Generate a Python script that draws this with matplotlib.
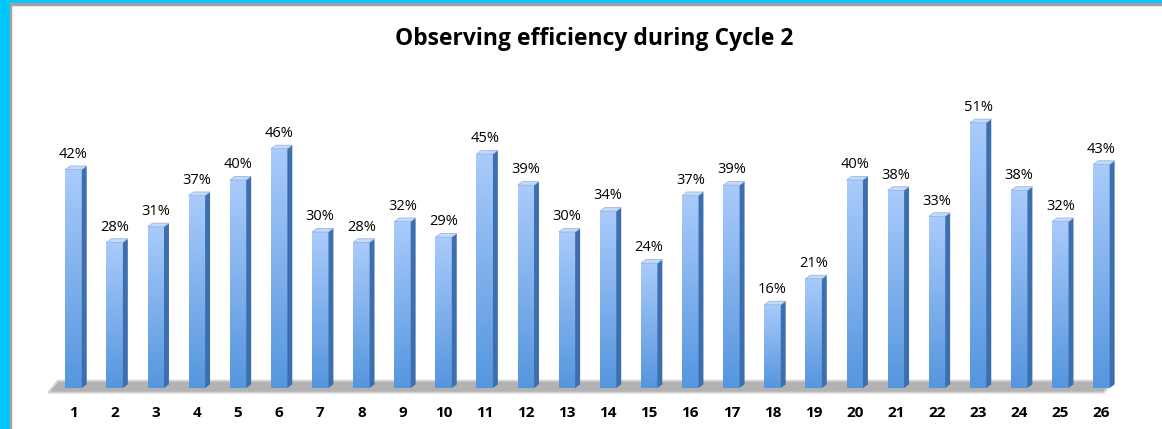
import matplotlib.pyplot as plt
import numpy as np
from matplotlib.colors import LinearSegmentedColormap
from matplotlib.patches import Polygon, Rectangle

# Data
cycles = [str(i) for i in range(1, 27)]
efficiency = [42, 28, 31, 37, 40, 46, 30, 28, 32, 29, 45, 39, 30, 34, 24,
              37, 39, 16, 21, 40, 38, 33, 51, 38, 32, 43]

plt.rcParams["font.family"] = ["Open Sans", "DejaVu Sans"]

fig = plt.figure(figsize=(11.62, 4.29), dpi=100)
fig.patch.set_facecolor("white")

# cyan frame on top and left
fig.patches.append(Rectangle((0, 1 - 4 / 429), 1, 4 / 429, transform=fig.transFigure,
                             color="#00c8ff", zorder=0))
fig.patches.append(Rectangle((0, 0), 10 / 1162, 1, transform=fig.transFigure,
                             color="#00c8ff", zorder=0))
fig.patches.append(Rectangle((10 / 1162, 1 - 5 / 429), 1, 1.5 / 429, transform=fig.transFigure,
                             color="#a0a0a0", zorder=0))
fig.patches.append(Rectangle((10 / 1162, 0), 1.5 / 1162, 1 - 4 / 429, transform=fig.transFigure,
                             color="#a0a0a0", zorder=0))

ax = fig.add_axes([53 / 1162, 41 / 429, 1069 / 1162, 312 / 429])
ax.set_xlim(0.5, 26.5)
ax.set_ylim(0, 60)
for s in ax.spines.values():
    s.set_visible(False)
ax.set_yticks([])

x = np.arange(1, len(efficiency) + 1)
w = 0.4
dx = 0.12
dy = 0.7

# floor
floor = Polygon([(0.38, -0.9), (26.05, -0.9), (26.3, 1.4), (0.62, 1.4)],
                closed=True, facecolor="#b2b2b2", edgecolor="#d4d4d4", lw=1.4,
                clip_on=False, zorder=1)
ax.add_patch(floor)

grad = np.linspace(0, 1, 256).reshape(-1, 1)
cmap = LinearSegmentedColormap.from_list("bar", ["#5596de", "#aacbfb"])

for xi, v in zip(x, efficiency):
    ax.imshow(grad, cmap=cmap, origin="lower", aspect="auto",
              extent=[xi - w / 2, xi + w / 2, 0, v], zorder=3)
    side = Polygon([(xi + w / 2, 0), (xi + w / 2 + dx, dy), (xi + w / 2 + dx, v + dy),
                    (xi + w / 2, v)], closed=True, facecolor="#3d6fae",
                   edgecolor="none", zorder=3)
    ax.add_patch(side)
    top = Polygon([(xi - w / 2, v), (xi + w / 2, v), (xi + w / 2 + dx, v + dy),
                   (xi - w / 2 + dx, v + dy)], closed=True, facecolor="#c4dafa",
                  edgecolor="#8fb0dc", lw=0.5, zorder=4)
    ax.add_patch(top)
    ax.text(xi, v + dy + 0.8, f"{v}%", ha="center", va="bottom", fontsize=10.5,
            color="black", zorder=5)

ax.set_xticks(x)
ax.set_xticklabels(cycles, fontsize=11, fontweight="bold")
ax.tick_params(axis="x", length=0, pad=13)

fig.text(0.511, 0.91, "Observing efficiency during Cycle 2", ha="center", va="center",
         fontsize=16.5, fontweight="bold")

fig.savefig("out.png", dpi=100)
